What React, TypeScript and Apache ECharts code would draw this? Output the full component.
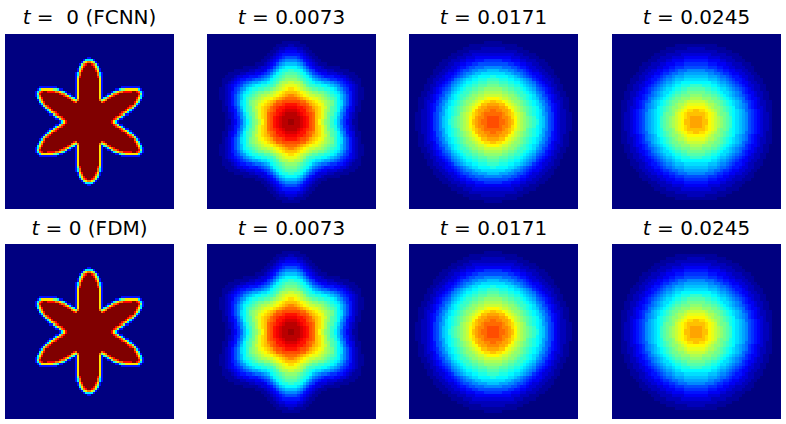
import React, { useEffect, useRef } from "react";
import * as echarts from "echarts";

// Cell values, one quarter of each (mirror-symmetric) panel.
// Row 0 is next to the panel centre, column 0 too. One character per cell: level 0..35 (0..z).
// Missing cells at the end of a row or of the table are level 0.
const T_0073 = [
  "yxxwvusromkihfdb864311",
  "xxxwvusronljhfeb965321",
  "xxwvutsronljhgec975321",
  "wwvuusrqonljigfda854311",
  "vvuutsrponlkigfdb864311",
  "uutssrponmljihfdc975321",
  "sssrrponmlkjihfdc975321",
  "rrqponmllkjihgfdb9753211",
  "qponmlkkjjihgfedb9753211",
  "oonmlkjiihhgfedca8653211",
  "nmlkjihggffeedca97643211",
  "llkjigffeeddcba97654321",
  "kjjigfedccbaa9876543211",
  "iihgfedba98876655432111",
  "hhgfedb987655544332111",
  "ggfedb976544333221111",
  "feedb97643332211111",
  "ddcb975433211111",
  "bba975432111",
  "9987543211",
  "776543211",
  "55543211",
  "4433211",
  "332211",
  "21111",
  "111",
];

const T_0171 = [
  "ssrrqpomkjihgfecb97643221100",
  "ssrqqpnmkjihgfdcb97643221100",
  "rrrqponlkjigfedca97643221100",
  "rqqppomkjihgfedca87543221",
  "qqppomlkjihgfedba87543211",
  "ppoomlkjihgfedcb986543211",
  "onnmlkjiihgfedca976433211",
  "mmlkkjiihgfedcb9875432211",
  "kkkjjiihgffedca976543211",
  "jjjiihhgffedcb98754322110000",
  "iiihhggffedcba87654321100000",
  "hhgggffeedcba976543221100000",
  "ggfffeeddcba9865433211",
  "ffeeeddccba98654332211",
  "eddddccba987654432211",
  "ccccbba9987654432211",
  "bbaaa998776543322111",
  "9998887765543322111",
  "777776655443322111",
  "66655544433222111",
  "444444333222111",
  "33333332221111",
  "222222221111",
  "2222111111",
  "11111111",
  "111",
];

const T_0245 = [
  "ppoomlkjihgfdcba976543221",
  "pponmlkjihgfdcba976543221",
  "ooonmlkihhgedcba976543221",
  "onnmlkjihgfedcba876543211",
  "mmmlkjiihgfedba9865433211",
  "lllkjjihgfedcba9865432211",
  "kkkjiihhgfedcba8765432211",
  "jjiiihhgfedcba98654432110000",
  "iihhhggfedcba987654322110000",
  "hhhggffedccba986544322110000",
  "gggffeedccba9876543221100000",
  "ffeeeddcbba98765433221100000",
  "dddddccbaa987654432211",
  "ccccbbba99876554322111",
  "bbbbaaa988765543322110",
  "aaaa9988766544332211",
  "9998887665544332211",
  "7777666554433222111",
  "666655544433222111",
  "5555444433222111",
  "444433332222111",
  "33333222221111",
  "222222211111",
  "2221111111",
  "1111111",
];

// Star panels, 2 px cells: run lengths count + letter, same quarter layout.
const STAR_LEVELS: Record<string, number> = { N: 0, B: 0.14, C: 0.36, G: 0.5, Y: 0.65, O: 0.76, R: 0.87, Z: 1 };
const T_STAR = [
  "11Z1R1Y1C1B",
  "12Z1R1O1G2B",
  "13Z1R1O1Y1C1B",
  "15Z1R1O1G2B",
  "16Z1R1O1Y1C1B",
  "18Z1R1Y1C1B",
  "19Z1R1O1G1B",
  "20Z1R1O1G1B",
  "22Z1O1C1B",
  "6Z1O1R14Z1R1Y1C",
  "5Z1O1G1Y1O14Z1O1G1B",
  "5Z1Y1B1C1G1O1R12Z1R1Y1C",
  "5Z1Y1B1N1B1C1Y1O1R11Z1O1C1B",
  "5Z1Y1B2N2B1G2O1R9Z1R1G1B",
  "5Z1Y1B4N1B1C1G1Y2O4R2Z1R1O1C1B",
  "5Z1Y1B6N2B1C2G6Y1C1B",
  "5Z1Y1B9N9B",
  "5Z1Y1B",
  "5Z1Y1B",
  "5Z1Y1B",
  "5Z1Y1B",
  "4Z1R1G1B",
  "4Z1O1C1B",
  "4Z1O1C1B",
  "3Z1R1Y1B",
  "3Z1O1G1B",
  "2Z1R1Y1C",
  "1Z1R1O1G1B",
  "1O1Y1G1B",
  "2C1B",
  "1B",
];

const JET = ["#000080", "#0000ff", "#0080ff", "#00ffff", "#80ff80", "#ffff00", "#ff8000", "#ff0000", "#800000"];
const CHARS = "0123456789abcdefghijklmnopqrstuvwxyz";
const FONT = "DejaVu Sans";

const SMOOTH_SIDE = 28;
const STAR_SIDE = 42;

function mirror(quarter: number[][]): number[][] {
  const rows = quarter.map((r) => [...[...r].reverse(), ...r]);
  return [...[...rows].reverse(), ...rows];
}

function smoothCells(rows: string[]): number[][] {
  const q: number[][] = [];
  for (let j = 0; j < SMOOTH_SIDE; j++) {
    const s = (rows[j] || "").padEnd(SMOOTH_SIDE, "0");
    q.push([...s].map((c) => CHARS.indexOf(c) / 35));
  }
  return mirror(q);
}

function starCells(rows: string[]): number[][] {
  const q: number[][] = [];
  for (let j = 0; j < STAR_SIDE; j++) {
    const out: number[] = [];
    for (const m of (rows[j] || "").matchAll(/(\d+)([A-Z])/g)) {
      for (let k = 0; k < Number(m[1]); k++) out.push(STAR_LEVELS[m[2]]);
    }
    while (out.length < STAR_SIDE) out.push(0);
    q.push(out);
  }
  return mirror(q);
}

const TITLES_TOP = ["{i|t} =  0 (FCNN)", "{i|t} = 0.0073", "{i|t} = 0.0171", "{i|t} = 0.0245"];
const TITLES_BOTTOM = ["{i|t} = 0 (FDM)", "{i|t} = 0.0073", "{i|t} = 0.0171", "{i|t} = 0.0245"];
const TABLES = [starCells(T_STAR), smoothCells(T_0073), smoothCells(T_0171), smoothCells(T_0245)];

const COLS = [5, 207, 409, 612];
const ROWS = [34, 244];
const PANEL_W = 169;
const PANEL_H = 175;

export default function App() {
  const ref = useRef<HTMLDivElement>(null);
  useEffect(() => {
    const chart = echarts.init(ref.current!, undefined, { renderer: "svg", width: 786, height: 424 });
    const grid: any[] = [];
    const xAxis: any[] = [];
    const yAxis: any[] = [];
    const series: any[] = [];
    const title: any[] = [];
    ROWS.forEach((top, r) => {
      COLS.forEach((left, c) => {
        const idx = grid.length;
        const table = TABLES[c];
        const n = table.length;
        const cats = table.map((_, i) => String(i));
        grid.push({ left, top, width: PANEL_W, height: PANEL_H, show: false });
        xAxis.push({ type: "category", gridIndex: idx, data: cats, show: false });
        yAxis.push({ type: "category", gridIndex: idx, data: cats, show: false });
        const data: number[][] = [];
        for (let y = 0; y < n; y++) for (let x = 0; x < n; x++) data.push([x, y, table[y][x]]);
        series.push({
          type: "heatmap",
          xAxisIndex: idx,
          yAxisIndex: idx,
          data,
          progressive: 0,
          silent: true,
          itemStyle: { borderWidth: 0 },
        });
        title.push({
          text: (r === 0 ? TITLES_TOP : TITLES_BOTTOM)[c],
          left: left + PANEL_W / 2,
          top: top - 27 + r,
          textAlign: "center",
          padding: 0,
          textStyle: {
            fontFamily: FONT,
            fontSize: 20,
            fontWeight: "normal",
            color: "#000",
            rich: { i: { fontFamily: FONT, fontSize: 20, fontStyle: "italic", color: "#000" } },
          },
        });
      });
    });
    chart.setOption({
      animation: false,
      backgroundColor: "#fff",
      title,
      grid,
      xAxis,
      yAxis,
      tooltip: { show: false },
      visualMap: { type: "continuous", min: 0, max: 1, show: false, inRange: { color: JET } },
      series,
    });
    return () => chart.dispose();
  }, []);
  return (
    <>
      <style>{"svg path, svg rect { shape-rendering: crispEdges; }"}</style>
      <div ref={ref} style={{ position: "absolute", left: 0, top: 0, width: 786, height: 424 }} />
    </>
  );
}
